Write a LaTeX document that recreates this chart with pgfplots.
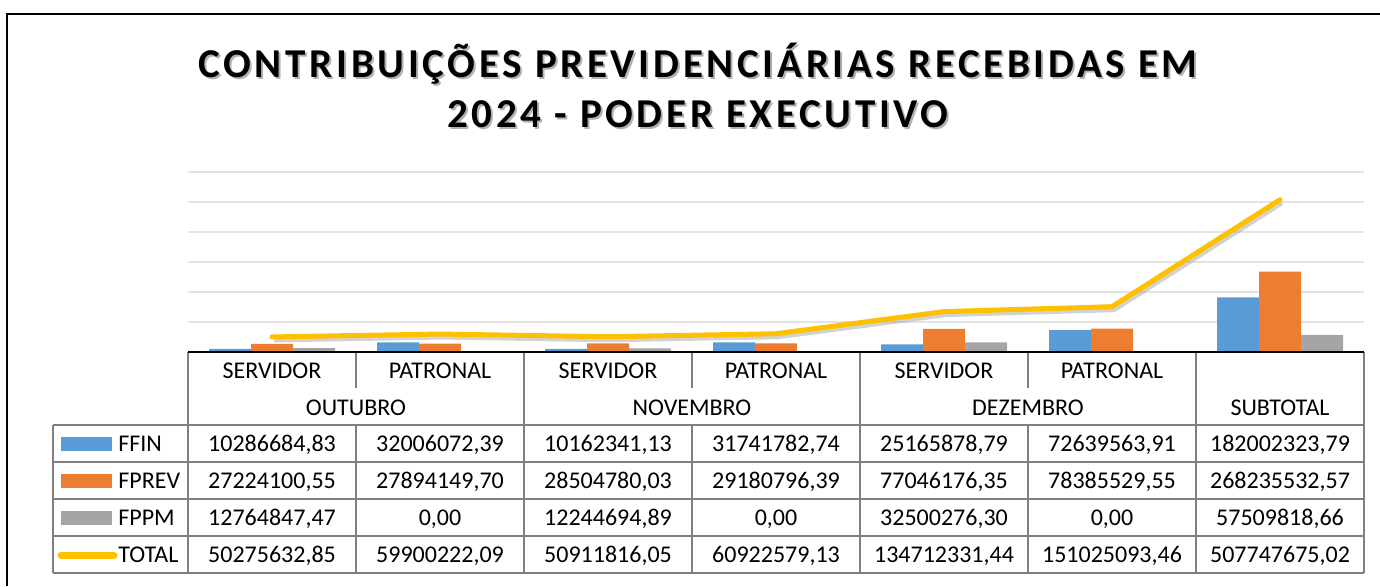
\documentclass[border=0pt]{standalone}
\usepackage{pgfplots}
\pgfplotsset{compat=1.18}
\usepackage{fontspec}
\setmainfont{Carlito}

\definecolor{cffin}{HTML}{5B9BD5}
\definecolor{cfprev}{HTML}{ED7D31}
\definecolor{cfppm}{HTML}{A5A5A5}
\definecolor{ctot}{HTML}{FFC000}
\definecolor{tblline}{HTML}{7F7F7F}

% x: 0..5 = OUT/NOV/DEZ servidor-patronal, 6 = subtotal
\pgfplotstableread{
x ffin fprev fppm total
0 10286684.83 27224100.55 12764847.47 50275632.85
1 32006072.39 27894149.70 0.00 59900222.09
2 10162341.13 28504780.03 12244694.89 50911816.05
3 31741782.74 29180796.39 0.00 60922579.13
4 25165878.79 77046176.35 32500276.30 134712331.44
5 72639563.91 78385529.55 0.00 151025093.46
6 182002323.79 268235532.57 57509818.66 507747675.02
}\contrib

\tikzset{
  tbl/.style={font=\fontsize{12}{14}\selectfont, inner sep=0pt,
    text height=7.7pt, text depth=0pt, anchor=center},
  ttl/.style={font=\fontsize{20.5}{24}\selectfont\bfseries\addfontfeatures{LetterSpace=9},
    inner sep=0pt, anchor=base},
}

% one data row of the table: y, then seven cells
\newcommand\datarow[8]{%
  \node[tbl] at (272,#1) {#2};
  \node[tbl] at (440,#1) {#3};
  \node[tbl] at (608,#1) {#4};
  \node[tbl] at (776,#1) {#5};
  \node[tbl] at (944,#1) {#6};
  \node[tbl] at (1112,#1) {#7};
  \node[tbl] at (1280,#1) {#8};
}

\begin{document}
\begin{tikzpicture}
\path[use as bounding box] (0,0) rectangle (690pt,-293pt);

\begin{axis}[
  at={(94pt,-176pt)}, anchor=south west,
  width=588pt, height=90pt, scale only axis,
  xmin=-0.5, xmax=6.5, ymin=0, ymax=6e8,
  xtick=\empty,
  ytick={1e8,2e8,3e8,4e8,5e8,6e8}, yticklabels={},
  scaled y ticks=false,
  major tick length=0pt,
  ymajorgrids, grid style={draw=gray!22, line width=0.9pt},
  axis line style={draw=none},
  clip=false,
]
\addplot[ybar, bar width=21pt, bar shift=-21pt, fill=cffin, draw=none] table[x=x, y=ffin] {\contrib};
\addplot[ybar, bar width=21pt, bar shift=0pt, fill=cfprev, draw=none] table[x=x, y=fprev] {\contrib};
\addplot[ybar, bar width=21pt, bar shift=21pt, fill=cfppm, draw=none] table[x=x, y=fppm] {\contrib};
\addplot[black!35, opacity=0.5, line width=2.5pt, line join=round, shift={(1pt,-1.5pt)}] table[x=x, y=total] {\contrib};
\addplot[ctot, line width=2.5pt, line join=round, line cap=round] table[x=x, y=total] {\contrib};
\end{axis}

\begin{scope}[x=0.5pt, y=-0.5pt]
  % outer frame
  \draw[line width=1pt] (7,586) -- (7,14) -- (1380,14);

  % title with a soft shadow
  \node[ttl, text=black!30] at (700,79) {CONTRIBUIÇÕES PREVIDENCIÁRIAS RECEBIDAS EM};
  \node[ttl, text=black!30] at (700,129) {2024 - PODER EXECUTIVO};
  \node[ttl] at (698,77) {CONTRIBUIÇÕES PREVIDENCIÁRIAS RECEBIDAS EM};
  \node[ttl] at (698,127) {2024 - PODER EXECUTIVO};

  % table grid
  \begin{scope}[draw=tblline, line width=0.75pt]
    \foreach \yy in {425,462,499,536,573} \draw (53,\yy) -- (1364,\yy);
    \draw (53,425) -- (53,573);
    \foreach \xx in {188,524,860,1196,1364} \draw (\xx,352) -- (\xx,573);
    \foreach \xx in {356,692,1028} {
      \draw (\xx,352) -- (\xx,388);
      \draw (\xx,425) -- (\xx,573);
    }
  \end{scope}
  \draw[black, line width=0.9pt] (188,352) -- (1364,352);

  % header rows
  \foreach \cx/\lab in {272/SERVIDOR,440/PATRONAL,608/SERVIDOR,776/PATRONAL,944/SERVIDOR,1112/PATRONAL}
    \node[tbl] at (\cx,371) {\lab};
  \foreach \cx/\lab in {356/OUTUBRO,692/NOVEMBRO,1028/DEZEMBRO,1280/SUBTOTAL}
    \node[tbl] at (\cx,408) {\lab};

  % legend keys
  \fill[cffin] (61,437) rectangle (112,451);
  \fill[cfprev] (61,474) rectangle (112,488);
  \fill[cfppm] (61,511) rectangle (112,525);
  \draw[ctot, line width=3.5pt, line cap=round] (61,555) -- (114,555);
  \node[tbl, anchor=west] at (118,444) {FFIN};
  \node[tbl, anchor=west] at (118,481) {FPREV};
  \node[tbl, anchor=west] at (118,518) {FPPM};
  \node[tbl, anchor=west] at (118,555) {TOTAL};

  % values
  \datarow{444}{10286684,83}{32006072,39}{10162341,13}{31741782,74}{25165878,79}{72639563,91}{182002323,79}
  \datarow{481}{27224100,55}{27894149,70}{28504780,03}{29180796,39}{77046176,35}{78385529,55}{268235532,57}
  \datarow{518}{12764847,47}{0,00}{12244694,89}{0,00}{32500276,30}{0,00}{57509818,66}
  \datarow{555}{50275632,85}{59900222,09}{50911816,05}{60922579,13}{134712331,44}{151025093,46}{507747675,02}
\end{scope}
\end{tikzpicture}
\end{document}
